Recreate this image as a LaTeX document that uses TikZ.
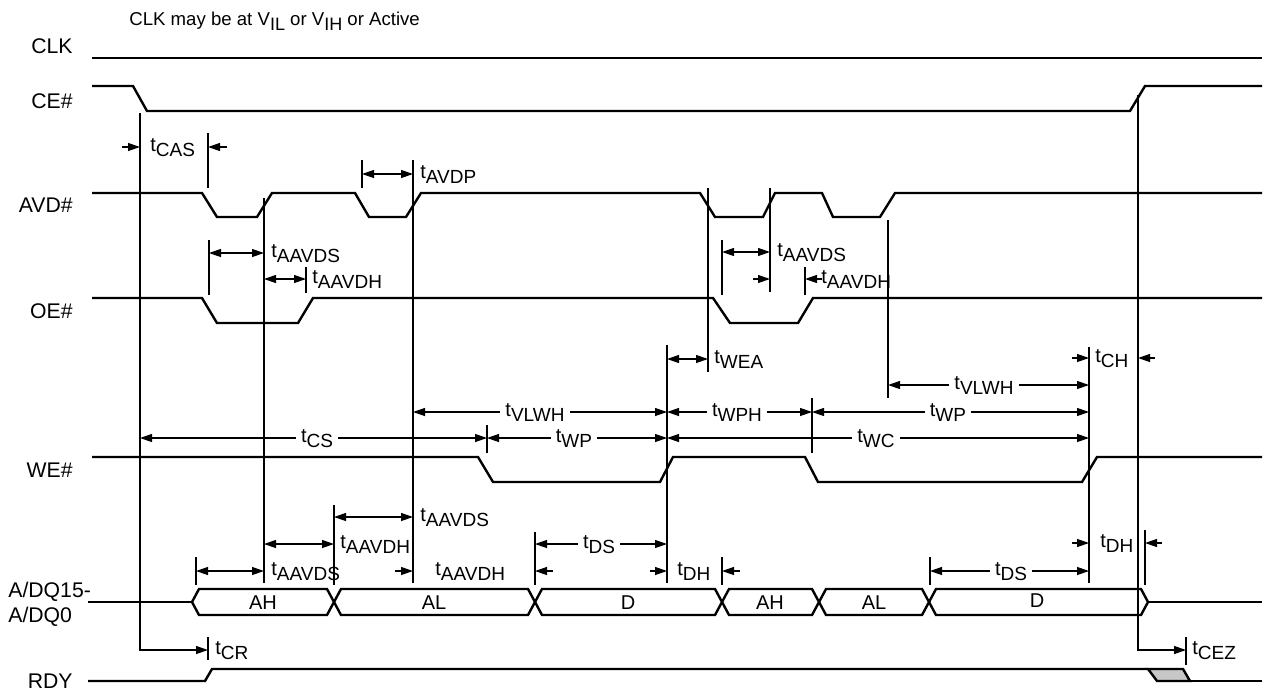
\documentclass[tikz,border=0pt]{standalone}
\usepackage{fontspec}
\setmainfont{Liberation Sans}
\usetikzlibrary{arrows.meta}
\newcommand\tlbl[1]{t\raisebox{-2.8pt}{\fontsize{9.5}{10}\selectfont #1}}
\newcommand\vsub[1]{\raisebox{-2.6pt}{\fontsize{9}{10}\selectfont #1}}
\begin{document}
\begin{tikzpicture}[x=0.5pt,y=-0.5pt,
 sig/.style={line width=1.2pt, line join=miter},
 thinl/.style={line width=0.6pt},
 dim/.style={thinl,{Triangle[length=6pt,width=4pt]}-{Triangle[length=6pt,width=4pt]}},
 ar/.style={thinl,-{Triangle[length=6pt,width=4pt]}},
 lab/.style={font=\fontsize{10}{12}\selectfont, inner sep=0pt},
 tlab/.style={lab, anchor=base west},
 mlab/.style={lab, anchor=base, fill=white, inner xsep=2.5pt, inner ysep=1pt},
 sname/.style={lab, anchor=base east, font=\fontsize{10.6}{12}\selectfont},
 buslab/.style={lab, anchor=base}
]
\useasboundingbox (0,0) rectangle (1267,691);

% ---------- top note and signal names ----------
\node[lab, anchor=base west, font=\fontsize{9.3}{11}\selectfont] (note) at (129,25)
  {CLK may be at V\vsub{IL} or V\vsub{IH} or Active};
\node[sname] (nCLK) at (73,53) {CLK};
\node[sname] (nCE) at (73,108) {CE\#};
\node[sname] (nAVD) at (73,212) {AVD\#};
\node[sname] (nOE) at (73,318) {OE\#};
\node[sname] (nWE) at (73,477) {WE\#};
\node[lab, anchor=base west, font=\fontsize{10.6}{12}\selectfont] (nAD1) at (8,597) {A/DQ15-};
\node[lab, anchor=base west, font=\fontsize{10.6}{12}\selectfont] (nAD0) at (8,622) {A/DQ0};
\node[sname] (nRDY) at (73,688) {RDY};

% ---------- waveforms ----------
\draw[sig] (92,58) -- (1262,58);
\draw[sig] (92,86) -- (133,86) -- (147,111) -- (1130,111) -- (1145,86) -- (1262,86);
\draw[sig] (92,193) -- (202,193) -- (217,217) -- (257,217) -- (272,193) -- (355,193)
  -- (369,217) -- (406,217) -- (421,193) -- (700,193) -- (715,217) -- (763,217)
  -- (775,193) -- (822,193) -- (833,217) -- (880,217) -- (895,193) -- (1262,193);
\draw[sig] (92,298) -- (202,298) -- (217,323) -- (298,323) -- (313,298) -- (713,298)
  -- (730,323) -- (798,323) -- (813,298) -- (1262,298);
\draw[sig] (92,457) -- (478,457) -- (493,482) -- (660,482) -- (673,457) -- (805,457)
  -- (818,482) -- (1082,482) -- (1097,457) -- (1262,457);
% bus
\draw[sig] (88,602) -- (192,602);
\foreach \a/\b in {192/334, 334/535, 535/722, 722/819, 819/929, 929/1148}
  \draw[sig] (\a,602) -- (\a+7,589) -- (\b-7,589) -- (\b,602) -- (\b-7,615) -- (\a+7,615) -- cycle;
\draw[sig] (1148,602) -- (1262,602);
\node[buslab] (b1) at (263,609) {AH};
\node[buslab] (b2) at (434,609) {AL};
\node[buslab] (b3) at (628,609) {D};
\node[buslab] (b4) at (770,609) {AH};
\node[buslab] (b5) at (874,609) {AL};
\node[buslab] (b6) at (1037,607) {D};
% RDY
\draw[sig] (88,681) -- (205,681) -- (212,669) -- (1148,669);
\filldraw[line width=1.2pt, line join=miter, fill=black!22] (1148,669) -- (1183,669) -- (1190,681) -- (1157,681) -- cycle;
\draw[sig] (1190,681) -- (1262,681);

% ---------- reference lines ----------
\draw[ar] (140,113) -- (140,650) -- (208,650);
\draw[ar] (1138,95) -- (1138,650) -- (1186,650);
\foreach \x/\ya/\yb in {208/133/188, 208/637/660, 264/198/583, 413/160/583, 362/160/188,
  209/240/295, 306/267/293, 708/188/372, 770/188/292, 722/240/295, 805/267/295,
  888/220/398, 667/345/583, 1089/347/583, 1186/637/665, 487/425/453, 812/398/453,
  722/557/585, 1145/530/585, 535/532/585, 334/505/585, 196/557/585, 930/557/585}
  \draw[thinl] (\x,\ya) -- (\x,\yb);

% ---------- dimension arrows ----------
\draw[ar] (122,147) -- (140,147);
\draw[ar] (227,147) -- (208,147);
\node[tlab] (tCAS) at (150,151) {\tlbl{CAS}};

\draw[dim] (362,174) -- (413,174);
\node[tlab] (tAVDP) at (420,178) {\tlbl{AVDP}};

\draw[dim] (209,253) -- (264,253);
\node[tlab] (tAAVDS1) at (271,257) {\tlbl{AAVDS}};
\draw[dim] (264,279) -- (306,279);
\node[tlab] (tAAVDH1) at (312,283) {\tlbl{AAVDH}};

\draw[dim] (722,252) -- (770,252);
\node[tlab] (tAAVDS2) at (777,256) {\tlbl{AAVDS}};
\draw[ar] (753,279) -- (770,279);
\draw[ar] (822,279) -- (805,279);
\node[tlab] (tAAVDH2) at (821,283) {\tlbl{AAVDH}};

\draw[dim] (667,359) -- (708,359);
\node[tlab] (tWEA) at (714,363) {\tlbl{WEA}};

\draw[ar] (1072,358) -- (1089,358);
\draw[ar] (1155,358) -- (1138,358);
\node[tlab] (tCH) at (1095,362) {\tlbl{CH}};

\draw[dim] (888,385) -- (1089,385);
\node[mlab] (tVLWH2) at (984,389) {\tlbl{VLWH}};

\draw[dim] (413,412) -- (667,412);
\node[mlab] (tVLWH1) at (535,416) {\tlbl{VLWH}};
\draw[dim] (667,412) -- (812,412);
\node[mlab] (tWPH) at (737,416) {\tlbl{WPH}};
\draw[dim] (812,412) -- (1089,412);
\node[mlab] (tWP2) at (948,416) {\tlbl{WP}};

\draw[dim] (140,438) -- (487,438);
\node[mlab] (tCS) at (317,442) {\tlbl{CS}};
\draw[dim] (487,438) -- (667,438);
\node[mlab] (tWP1) at (574,442) {\tlbl{WP}};
\draw[dim] (667,438) -- (1089,438);
\node[mlab] (tWC) at (876,442) {\tlbl{WC}};

\draw[dim] (334,517) -- (413,517);
\node[tlab] (tAAVDS3) at (420,521) {\tlbl{AAVDS}};
\draw[dim] (264,544) -- (334,544);
\node[tlab] (tAAVDH3) at (340,548) {\tlbl{AAVDH}};
\draw[dim] (535,544) -- (667,544);
\node[mlab] (tDS1) at (599,548) {\tlbl{DS}};
\draw[ar] (1072,543) -- (1089,543);
\draw[ar] (1162,543) -- (1145,543);
\node[tlab] (tDH2) at (1100,547) {\tlbl{DH}};

\draw[dim] (196,571) -- (264,571);
\node[tlab] (tAAVDS4) at (271,575) {\tlbl{AAVDS}};
\draw[ar] (395,571) -- (413,571);
\draw[ar] (553,571) -- (535,571);
\node[tlab] (tAAVDH4) at (435,575) {\tlbl{AAVDH}};
\draw[ar] (650,571) -- (667,571);
\draw[ar] (740,571) -- (722,571);
\node[tlab] (tDH1) at (677,575) {\tlbl{DH}};
\draw[dim] (930,571) -- (1089,571);
\node[mlab] (tDS2) at (1011,575) {\tlbl{DS}};

\node[tlab] (tCR) at (215,654) {\tlbl{CR}};
\node[tlab] (tCEZ) at (1192,654) {\tlbl{CEZ}};
\end{tikzpicture}
\end{document}
